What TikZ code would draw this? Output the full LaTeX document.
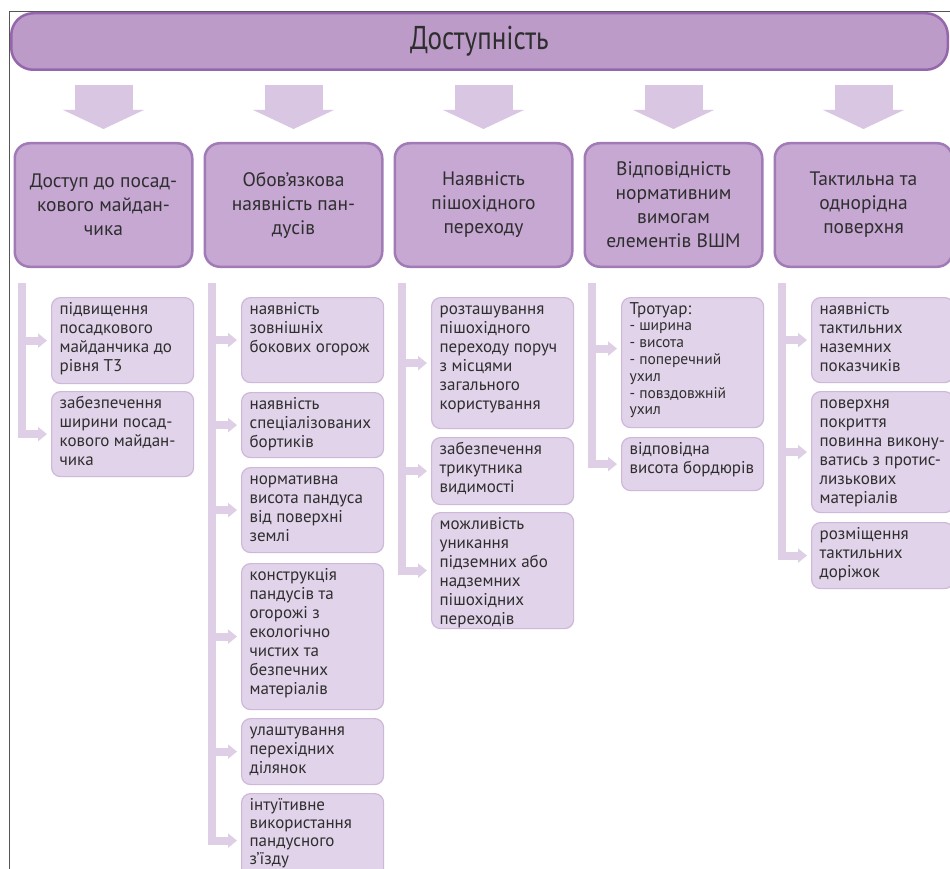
\documentclass[tikz,border=0pt]{standalone}
\usepackage{fontspec}
\setmainfont{PT Sans}
\newfontfamily\hdrfont[FakeStretch=0.82]{PT Sans}
\usetikzlibrary{arrows.meta,calc}
\definecolor{hdrfill}{HTML}{BC9BC9}
\definecolor{hdrline}{HTML}{9566AC}
\definecolor{mainfill}{HTML}{C6A8D3}
\definecolor{mainline}{HTML}{A07BB6}
\definecolor{arrowc}{HTML}{D9C6E2}
\definecolor{barc}{HTML}{DFCFE6}
\definecolor{subfill}{HTML}{E1D3E9}
\definecolor{subline}{HTML}{CDB8D9}
\definecolor{txt}{HTML}{2E2E2E}
\definecolor{framec}{HTML}{555555}
\tikzset{
 hdr/.style={draw=hdrline, fill=hdrfill, line width=2.5pt, rounded corners=22pt,
   minimum width=936.5pt, minimum height=56.5pt, inner sep=0pt,
   font=\hdrfont\fontsize{33}{36}\selectfont, text=txt},
 mainbox/.style={draw=mainline, fill=mainfill, line width=2.5pt, rounded corners=15pt,
   minimum width=177.5pt, minimum height=123.5pt, align=center, inner sep=0pt,
   font=\fontsize{19.5}{24}\selectfont, text=txt},
 subbox/.style={draw=subline, fill=subfill, line width=1.2pt, rounded corners=9pt,
   inner xsep=8pt, inner ysep=4pt, anchor=north west,
   font=\fontsize{17}{19}\selectfont, text=txt},
 bigarrow/.style={draw=arrowc, line width=58pt, -{Triangle[width=80pt,length=19pt]}},
 branch/.style={draw=barc, line width=8pt, -{Triangle[width=14pt,length=9pt]}, shorten >=4pt},
 framel/.style={draw=framec, line width=0.8pt},
}
\newcommand\sbx[5]{\node[subbox] (#1) at (#2,#3) {\parbox[c][#4pt][t]{126pt}{\raggedright\hfuzz=20pt\rule{0pt}{12.5pt}#5}};}
\begin{document}
\begin{tikzpicture}[x=1pt,y=-1pt]
\useasboundingbox (0,0) rectangle (950,869);
\clip (0,0) rectangle (950,869);
\fill[white] (0,0) rectangle (950,869);
\draw[framel] (9,869) -- (9,11) -- (950,11);

\node[hdr] (hdr) at (479.5,41.5) {Доступність};

\node[mainbox] (b1) at (103.5,205) {Доступ до посад-\\кового майдан-\\чика};
\node[mainbox] (b2) at (293.5,205) {Обов’язкова\\наявність пан-\\дусів};
\node[mainbox] (b3) at (483.5,205) {Наявність\\пішохідного\\переходу};
\node[mainbox] (b4) at (673.5,205) {Відповідність\\нормативним\\вимогам\\елементів ВШМ};
\node[mainbox] (b5) at (863.5,205) {Тактильна та\\однорідна\\поверхня};

\coordinate (atop) at (0,85);
\foreach \b in {b1,b2,b3,b4,b5}{
  \draw[bigarrow] (\b.north |- atop) -- ([yshift=13pt]\b.north);
}

% column 1
\coordinate (t1) at (21.5,283);
\sbx{s11}{51}{297}{78}{підвищення\\посадкового\\майданчика~до\\рівня~Т3}
\sbx{s12}{51}{391}{77}{забезпечення\\ширини~посад-\\кового~майдан-\\чика}
% column 2
\coordinate (t2) at (211.5,283);
\sbx{s21}{241}{297}{77}{наявність\\зовнішніх\\бокових~огорож}
\sbx{s22}{241}{392}{57}{наявність\\спеціалізованих\\бортиків}
\sbx{s23}{241}{467}{77}{нормативна\\висота~пандуса\\від~поверхні\\землі}
\sbx{s24}{241}{563}{138}{конструкція\\пандусів~та\\огорожі~з\\екологічно\\чистих~та\\безпечних\\матеріалів}
\sbx{s25}{241}{718}{58}{улаштування\\перехідних\\ділянок}
\sbx{s26}{241}{793}{86}{\fontsize{17}{18.2}\selectfont інтуїтивне\\використання\\пандусного\\з’їзду}
% column 3
\coordinate (t3) at (401.5,283);
\sbx{s31}{431}{297}{123}{розташування\\пішохідного\\переходу~поруч\\з~місцями\\загального\\користування}
\sbx{s32}{431}{437}{59}{забезпечення\\трикутника\\видимості}
\sbx{s33}{431}{512}{108}{можливість\\уникання\\підземних~або\\надземних\\пішохідних\\переходів}
% column 4
\coordinate (t4) at (591.5,283);
\sbx{s41}{621}{297}{122}{Тротуар:\\\fontsize{15.5}{16.8}\selectfont -~ширина\\-~висота\\-~поперечний\\ухил\\-~повздовжній\\ухил}
\sbx{s42}{621}{437}{45}{відповідна\\висота~бордюрів}
% column 5
\coordinate (t5) at (781.5,283);
\sbx{s51}{811}{297}{77}{наявність\\тактильних\\наземних\\показчиків}
\sbx{s52}{811}{391}{113}{поверхня\\покриття\\повинна~викону-\\ватись~з~протис-\\лизькових\\матеріалів}
\sbx{s53}{811}{522}{58}{розміщення\\тактильних\\доріжок}

% connectors
\draw[branch] (t1) |- (s12.west);
\draw[branch] (s11.west -| t1) -- (s11.west);

\draw[branch] (t2) |- (s26.west);
\foreach \s in {s21,s22,s23,s24,s25}{\draw[branch] (\s.west -| t2) -- (\s.west);}

\draw[branch] (t3) |- (s33.west);
\foreach \s in {s31,s32}{\draw[branch] (\s.west -| t3) -- (\s.west);}

\draw[branch] (t4) |- (s42.west);
\draw[branch] ([yshift=14pt]s41.west -| t4) -- ([yshift=14pt]s41.west);

\draw[branch] (t5) |- (s53.west);
\foreach \s in {s51,s52}{\draw[branch] (\s.west -| t5) -- (\s.west);}
\end{tikzpicture}
\end{document}
